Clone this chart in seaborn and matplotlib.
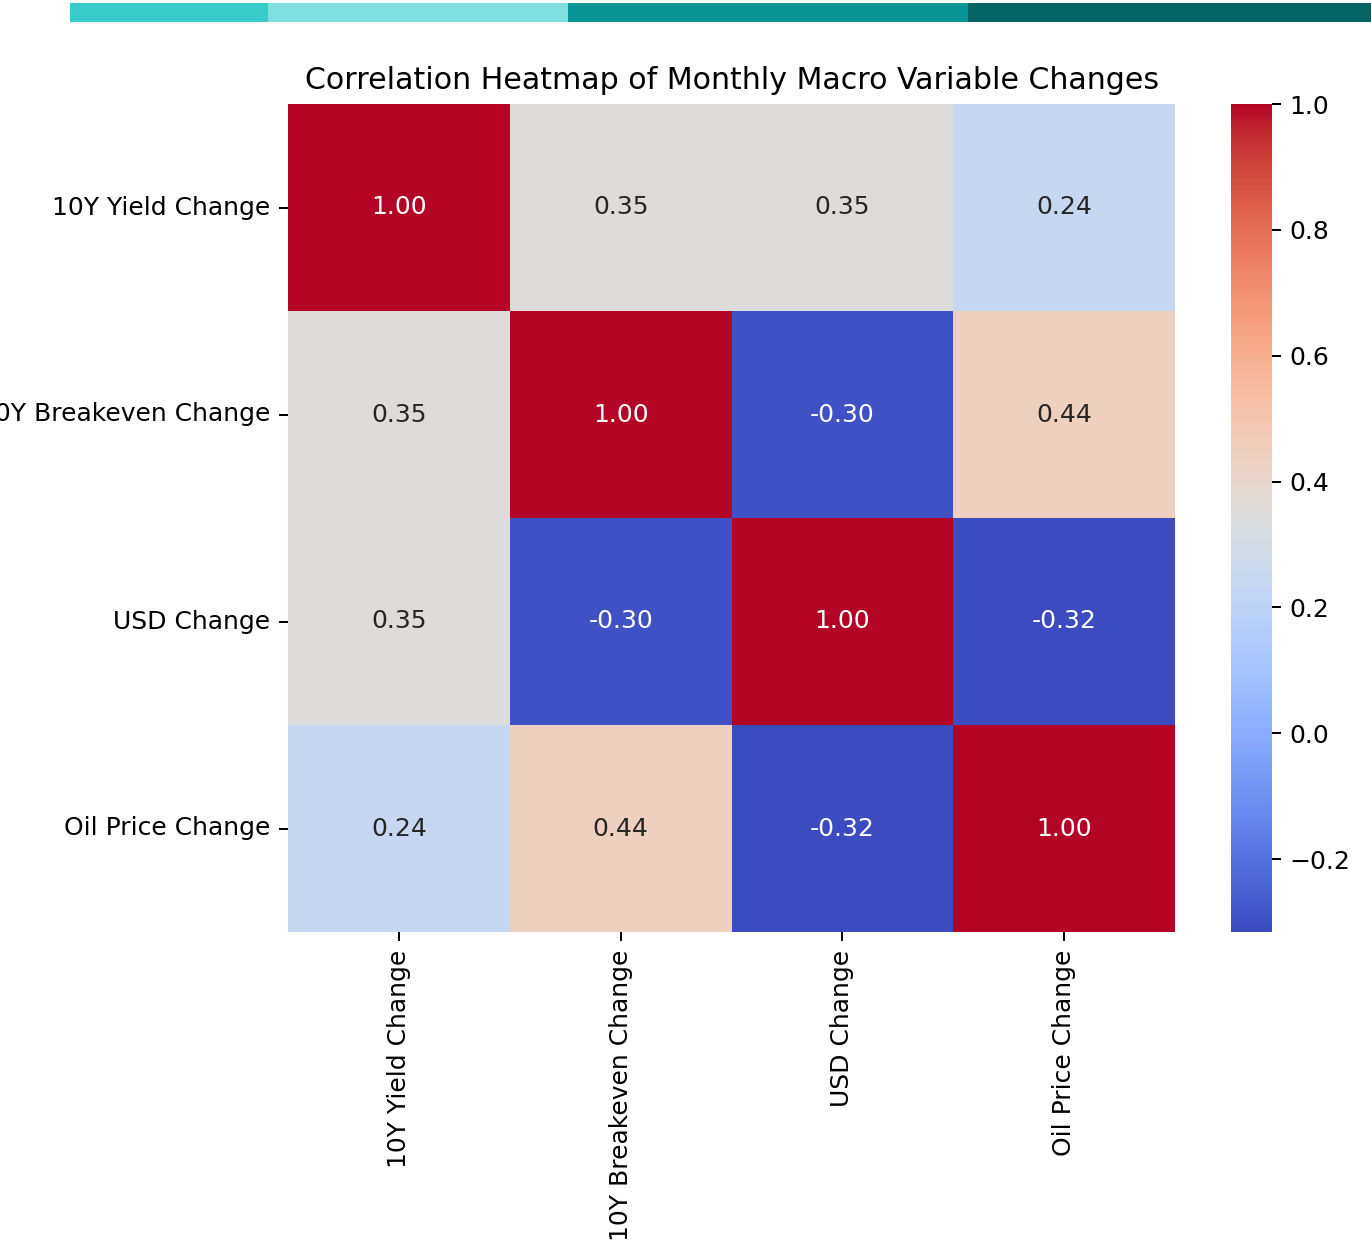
import numpy as np
import pandas as pd
import matplotlib
matplotlib.use("Agg")
import matplotlib.pyplot as plt
import seaborn as sns

# variables and correlation values
variables = ["10Y Yield Change", "10Y Breakeven Change", "USD Change", "Oil Price Change"]
row_yield = [1.00, 0.35, 0.35, 0.24]
row_breakeven = [0.35, 1.00, -0.30, 0.44]
row_usd = [0.35, -0.30, 1.00, -0.316]
row_oil = [0.24, 0.44, -0.316, 1.00]

# decorative strip at the top
strip_widths = [198, 300, 400, 403]
strip_colors = ["#38cdca", "#80e0de", "#089494", "#046563"]

corr = pd.DataFrame([row_yield, row_breakeven, row_usd, row_oil],
                    index=variables, columns=variables)

W, H = 1371, 1257
dpi = 180
fig = plt.figure(figsize=(W / dpi, H / dpi), dpi=dpi)

# top strip
ax_strip = fig.add_axes([70 / W, 1 - 22 / H, 1 - 70 / W, 19 / H])
lefts = np.cumsum([0] + strip_widths[:-1])
ax_strip.barh([0] * len(strip_widths), strip_widths, left=lefts,
              height=1.0, color=strip_colors)
ax_strip.set_xlim(0, sum(strip_widths))
ax_strip.set_ylim(-0.5, 0.5)
ax_strip.axis("off")

ax = fig.add_axes([288 / W, 1 - 932 / H, (1175 - 288) / W, (932 - 104) / H])
cax = fig.add_axes([1231 / W, 1 - 932 / H, 41 / W, (932 - 104) / H])

sns.heatmap(corr, annot=True, fmt=".2f", cmap="coolwarm", ax=ax, cbar_ax=cax)
ax.set_title("Correlation Heatmap of Monthly Macro Variable Changes")
cax.tick_params(length=3.5)

fig.savefig("out.png", dpi=dpi)
